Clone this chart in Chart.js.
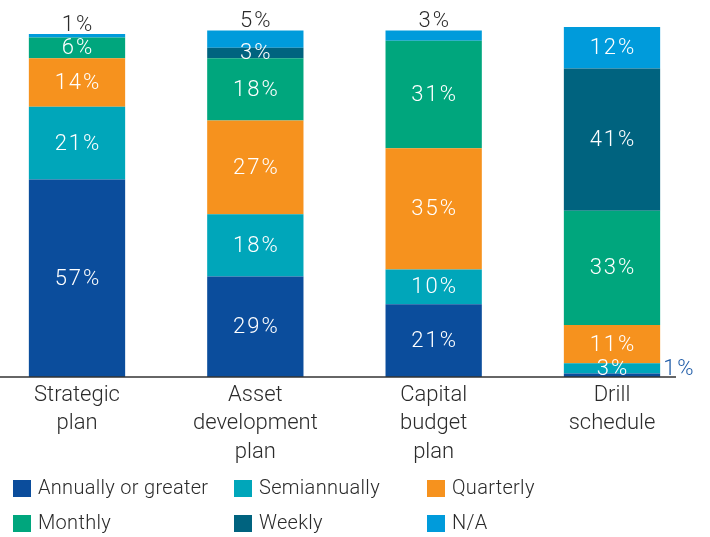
<!DOCTYPE html>
<html>
<head>
<meta charset="utf-8">
<script src="https://cdn.jsdelivr.net/npm/chart.js@4"></script>
<style>
  html, body { margin: 0; padding: 0; background: #fff; }
  #wrap { width: 710px; height: 537px; position: relative; }
</style>
</head>
<body>
<div id="wrap"><canvas id="planChart"></canvas></div>
<script>
// categories and series
var categories = [['Strategic', 'plan'], ['Asset', 'development', 'plan'], ['Capital', 'budget', 'plan'], ['Drill', 'schedule']];
var seriesNames = ['Annually or greater', 'Semiannually', 'Quarterly', 'Monthly', 'Weekly', 'N/A'];
var seriesColors = ['#0b4d9c', '#00a6ba', '#f6921e', '#00a67d', '#00637f', '#009bdb'];

var annually = [57, 29, 21, 1];
var semiannually = [21, 18, 10, 3];
var quarterly = [14, 27, 35, 11];
var monthly = [6, 18, 31, 33];
var weekly = [0, 3, 0, 41];
var notApplicable = [1, 5, 3, 12];
var seriesValues = [annually, semiannually, quarterly, monthly, weekly, notApplicable];

var FONT = 'Roboto, "Liberation Sans", sans-serif';

// % labels on each segment
var segmentLabels = {
  id: 'segmentLabels',
  afterDatasetsDraw: function(chart) {
    var ctx = chart.ctx;
    var last = chart.data.datasets.length - 1;
    ctx.save();
    ctx.font = '300 22px ' + FONT;
    ctx.letterSpacing = '2px';
    chart.data.datasets.forEach(function(ds, di) {
      chart.getDatasetMeta(di).data.forEach(function(bar, i) {
        var v = ds.data[i];
        if (!v) return;
        var text = v + '%';
        if (di === last && v < 10) {
          // small N/A share sits above the bar
          ctx.fillStyle = '#2b2b2b';
          ctx.textAlign = 'center';
          ctx.textBaseline = 'alphabetic';
          ctx.fillText(text, bar.x + 1, bar.y - 3);
        } else if (di === 0 && v < 3) {
          // tiny bottom segment gets its label off to the right
          ctx.fillStyle = '#1f5ca8';
          ctx.textAlign = 'left';
          ctx.textBaseline = 'alphabetic';
          ctx.fillText(text, bar.x + bar.width / 2 + 3, bar.base - 2);
        } else {
          ctx.fillStyle = '#ffffff';
          ctx.textAlign = 'center';
          ctx.textBaseline = 'middle';
          ctx.fillText(text, bar.x + 1, (bar.y + bar.base) / 2 + 1);
        }
      });
    });
    // baseline
    var area = chart.chartArea;
    ctx.strokeStyle = '#333';
    ctx.lineWidth = 1.5;
    ctx.beginPath();
    ctx.moveTo(0, area.bottom);
    ctx.lineTo(area.right + 64, area.bottom);
    ctx.stroke();
    ctx.restore();
  }
};

// two-row legend under the axis
var gridLegend = {
  id: 'gridLegend',
  afterDraw: function(chart) {
    var ctx = chart.ctx;
    var colX = [13, 234, 427];
    var rowY = [480, 515];
    ctx.save();
    ctx.font = '300 20px ' + FONT;
    ctx.letterSpacing = '0.3px';
    ctx.textAlign = 'left';
    ctx.textBaseline = 'middle';
    chart.data.datasets.forEach(function(ds, di) {
      var x = colX[di % 3];
      var y = rowY[Math.floor(di / 3)];
      ctx.fillStyle = ds.backgroundColor;
      ctx.fillRect(x, y, 18, 17);
      ctx.fillStyle = '#2b2b2b';
      ctx.fillText(ds.label, x + 25, y + 9);
    });
    ctx.restore();
  }
};

var datasets = seriesNames.map(function(name, i) {
  return {
    label: name,
    data: seriesValues[i],
    backgroundColor: seriesColors[i],
    borderWidth: 0,
    barPercentage: 0.54,
    categoryPercentage: 1,
    clip: false
  };
});

var ctx = document.getElementById('planChart').getContext('2d');
var chart = new Chart(ctx, {
  type: 'bar',
  data: {
    labels: categories,
    datasets: datasets
  },
  options: {
    responsive: true,
    maintainAspectRatio: false,
    animation: false,
    layout: { padding: { left: 77, right: 98, top: 27, bottom: 0 } },
    plugins: {
      legend: { display: false },
      tooltip: { enabled: false }
    },
    scales: {
      x: {
        stacked: true,
        offset: false,
        grid: { display: false, drawTicks: false },
        border: { display: false },
        ticks: {
          color: '#2b2b2b',
          padding: 4,
          maxRotation: 0,
          autoSkip: false,
          font: { family: FONT, size: 22, weight: '300', lineHeight: 1.3 }
        },
        afterFit: function(scale) { scale.height = 160; }
      },
      y: {
        stacked: true,
        display: false,
        min: 0,
        max: 101
      }
    }
  },
  plugins: [segmentLabels, gridLegend]
});
</script>
</body>
</html>
